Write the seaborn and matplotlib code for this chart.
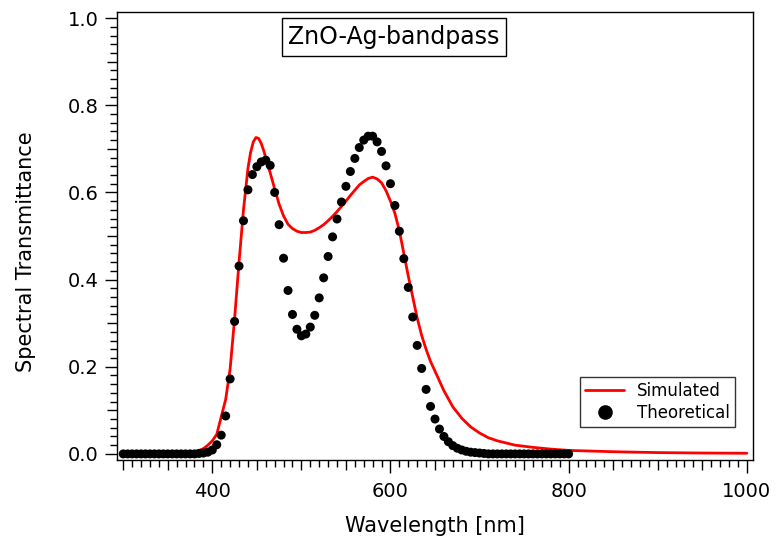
import numpy as np
import pandas as pd
import matplotlib
matplotlib.use("Agg")
import matplotlib.pyplot as plt
from matplotlib.ticker import MultipleLocator, FuncFormatter
from matplotlib.lines import Line2D
import seaborn as sns

# ---- data ----
theo_wl = list(range(300, 805, 5))
theo_T = ([0.0] * 17 +                                   # 300-380
          [0.001, 0.002, 0.004, 0.009, 0.021, 0.043, 0.087, 0.172, 0.304,  # 385-425
           0.431, 0.535, 0.606, 0.641, 0.659, 0.670, 0.674, 0.662, 0.600,  # 430-470
           0.526, 0.449, 0.375, 0.320, 0.286, 0.271, 0.275, 0.291, 0.318,  # 475-515
           0.358, 0.404, 0.453, 0.498, 0.539, 0.578, 0.614, 0.648, 0.678,  # 520-560
           0.703, 0.720, 0.729, 0.729, 0.716, 0.694, 0.661, 0.620, 0.570,  # 565-605
           0.511, 0.448, 0.382, 0.314, 0.249, 0.196, 0.148, 0.109, 0.080,  # 610-650
           0.057, 0.040, 0.028, 0.019, 0.013, 0.009, 0.006, 0.004, 0.003,  # 655-695
           0.002, 0.001] +                                              # 700-705
          [0.0] * 19)                                                   # 710-800

sim_wl = [300, 340, 360, 370, 380, 385, 390, 395, 400, 405, 410, 415, 420, 425,
          430, 435, 440, 443, 446, 449, 452, 455, 458, 461, 465, 470, 475, 480,
          485, 490, 495, 500, 505, 510, 515, 520, 525, 530, 535, 540, 545, 550,
          555, 560, 565, 570, 575, 580, 585, 590, 595, 600, 605, 610, 615, 620,
          625, 630, 635, 640, 645, 650, 660, 670, 680, 690, 700, 710, 720, 740,
          760, 780, 800, 850, 900, 950, 1000]
sim_T = [0.0, 0.0, 0.0005, 0.001, 0.004, 0.008, 0.012, 0.020, 0.030, 0.045,
         0.085, 0.125, 0.195, 0.310, 0.440, 0.560, 0.655, 0.692, 0.716, 0.726,
         0.724, 0.712, 0.694, 0.672, 0.645, 0.608, 0.573, 0.546, 0.527, 0.517,
         0.511, 0.508, 0.508, 0.509, 0.513, 0.519, 0.526, 0.535, 0.545, 0.556,
         0.568, 0.580, 0.593, 0.605, 0.617, 0.625, 0.632, 0.635, 0.631, 0.622,
         0.604, 0.580, 0.552, 0.512, 0.460, 0.408, 0.360, 0.312, 0.272, 0.240,
         0.212, 0.190, 0.145, 0.108, 0.082, 0.062, 0.048, 0.037, 0.030, 0.020,
         0.015, 0.011, 0.008, 0.005, 0.003, 0.002, 0.0015]

title_text = "ZnO-Ag-bandpass"
x_label = "Wavelength [nm]"
y_label = "Spectral Transmittance"

sns.set_style("white")
plt.rcParams["font.family"] = ["DejaVu Sans"]
plt.rcParams["text.color"] = "black"
plt.rcParams["axes.labelcolor"] = "black"

fig = plt.figure(figsize=(7.78, 5.43), dpi=100)
ax = fig.add_axes([117 / 778, 83 / 543, 636 / 778, 448 / 543])

sim_df = pd.DataFrame({"wl": sim_wl, "T": sim_T})
theo_df = pd.DataFrame({"wl": theo_wl, "T": theo_T})

sns.lineplot(data=sim_df, x="wl", y="T", ax=ax, color="#ff0000", lw=2.0, zorder=2)
sns.scatterplot(data=theo_df, x="wl", y="T", ax=ax, color="black", s=42,
                edgecolor="none", zorder=3)

ax.set_xlim(293, 1007)
ax.set_ylim(-0.014, 1.014)

for sp in ax.spines.values():
    sp.set_color("black")
    sp.set_linewidth(1.0)
    sp.set_visible(True)

ax.xaxis.set_major_locator(MultipleLocator(50))
ax.xaxis.set_minor_locator(MultipleLocator(10))
ax.yaxis.set_major_locator(MultipleLocator(0.1))
ax.yaxis.set_minor_locator(MultipleLocator(0.02))
ax.xaxis.set_major_formatter(FuncFormatter(
    lambda v, p: f"{int(round(v))}" if round(v) % 200 == 0 else ""))
ax.yaxis.set_major_formatter(FuncFormatter(
    lambda v, p: f"{v:.1f}" if abs(round(v * 10) % 2) == 0 else ""))

ax.tick_params(axis="both", which="major", direction="out", length=7,
               width=1, color="black", labelsize=14, labelcolor="black",
               bottom=True, left=True, top=False, right=False)
ax.tick_params(axis="both", which="minor", direction="out", length=4.8,
               width=1, color="black", bottom=True, left=True, top=False, right=False)
ax.tick_params(axis="x", which="major", pad=9)
ax.tick_params(axis="y", which="major", pad=6)

fig.canvas.draw()
for t, loc in zip(ax.xaxis.get_major_ticks(), ax.xaxis.get_majorticklocs()):
    if round(loc) % 200 == 0:
        t.tick1line.set_markersize(9.5)
for t, loc in zip(ax.yaxis.get_major_ticks(), ax.yaxis.get_majorticklocs()):
    if abs(round(loc * 10) % 2) == 0:
        t.tick1line.set_markersize(9)

ax.set_xlabel(x_label, fontsize=15, color="black")
ax.set_ylabel(y_label, fontsize=15, color="black")
ax.yaxis.set_label_coords(-0.128, 0.465)
ax.xaxis.set_label_coords(0.5, -0.125)

ax.text(0.4355, 0.944, title_text, transform=ax.transAxes, fontsize=17,
        ha="center", va="center", color="black",
        bbox=dict(boxstyle="square,pad=0.28", fc="white", ec="black", lw=1))

handles = [Line2D([0], [0], color="#ff0000", lw=2.0),
           Line2D([0], [0], color="black", marker="o", ls="none", markersize=9.5)]
leg = ax.legend(handles, ["Simulated", "Theoretical"], loc="lower right",
                bbox_to_anchor=(0.9717, 0.0737), borderaxespad=0.0,
                fontsize=12, frameon=True,
                fancybox=False, handlelength=2.3, borderpad=0.3,
                labelspacing=0.25, handletextpad=0.8)
leg.get_frame().set_edgecolor("black")
leg.get_frame().set_linewidth(1.0)
for txt in leg.get_texts():
    txt.set_color("black")

fig.savefig("out.png", dpi=100)
